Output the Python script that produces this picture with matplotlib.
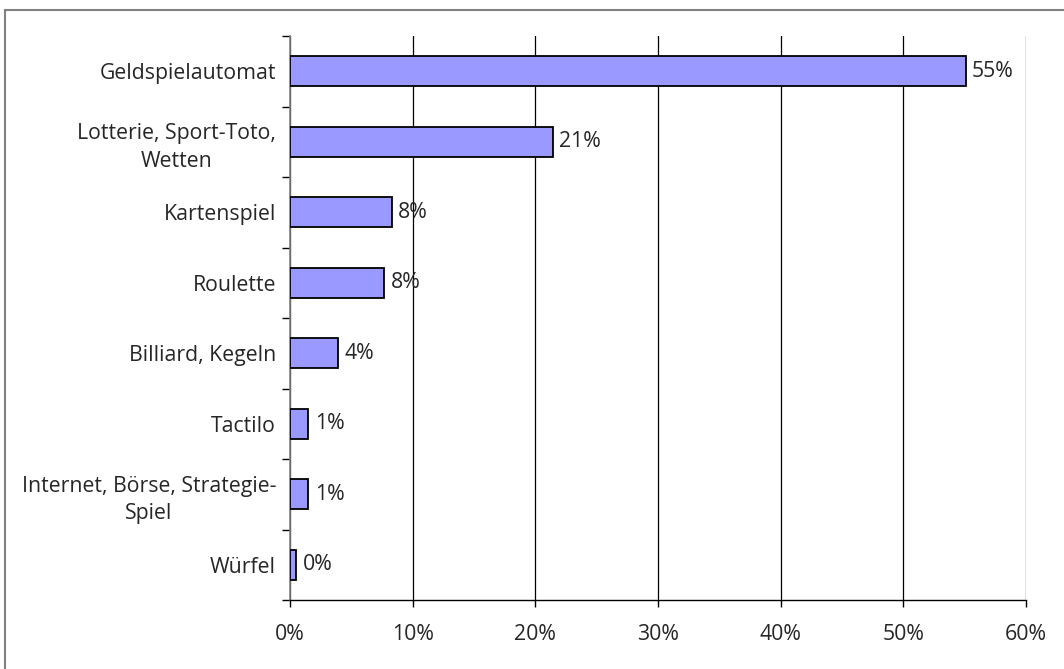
import matplotlib
matplotlib.use("Agg")
import matplotlib.pyplot as plt
from matplotlib.patches import Rectangle
import numpy as np

categories = ["Geldspielautomat", "Lotterie, Sport-Toto,\nWetten", "Kartenspiel", "Roulette",
              "Billiard, Kegeln", "Tactilo", "Internet, Börse, Strategie-\nSpiel", "Würfel"]
values = [55.1, 21.4, 8.3, 7.7, 3.9, 1.5, 1.5, 0.5]
value_labels = ["55%", "21%", "8%", "8%", "4%", "1%", "1%", "0%"]
xticks = [0, 10, 20, 30, 40, 50, 60]
xtick_labels = ["0%", "10%", "20%", "30%", "40%", "50%", "60%"]

plt.rcParams['font.family'] = ['Open Sans', 'DejaVu Sans']
FS = 15.3
TXT = "#262626"

W, H = 1064, 669
fig = plt.figure(figsize=(W / 100, H / 100), dpi=100)
fig.patches.append(Rectangle((5 / W, -0.05), 1.2, (H - 10) / H + 0.05, transform=fig.transFigure,
                             fill=False, edgecolor="#808080", linewidth=1.5))
ax = fig.add_axes([290 / W, 1 - 600 / H, (1026 - 290) / W, (600 - 36) / H])

y = np.arange(len(categories))
ax.barh(y, values, height=0.42, color="#9999FF", edgecolor="black", linewidth=1.3, zorder=3)

for yi, v, lab in zip(y, values, value_labels):
    ax.annotate(lab, (v, yi), xytext=(4.5, 0), textcoords="offset points",
                ha="left", va="center", fontsize=FS, color=TXT)

ax.set_xlim(0, 60)
ax.set_ylim(len(categories) - 0.5, -0.5)
ax.set_xticks(xticks)
ax.set_xticklabels(xtick_labels, fontsize=FS, color=TXT)
ax.xaxis.grid(True, color="black", linewidth=0.9, zorder=0)
ax.set_axisbelow(True)

ax.set_yticks(np.arange(-0.5, len(categories), 1.0))
ax.set_yticklabels([])
ax.set_yticks(y, minor=True)
ax.set_yticklabels(categories, minor=True, fontsize=FS, color=TXT)
for t in ax.get_yticklabels(minor=True):
    t.set_multialignment("center")
    t.set_linespacing(1.4)
ax.tick_params(axis="y", which="minor", length=0, pad=10)
ax.tick_params(axis="y", which="major", length=6, width=1, color="black", direction="out")
ax.tick_params(axis="x", length=5, width=1, color="black", direction="out", pad=12)

for s in ["top", "right"]:
    ax.spines[s].set_visible(False)
ax.spines["left"].set_color("#808080")
ax.spines["left"].set_linewidth(1.2)
ax.spines["bottom"].set_color("black")
ax.spines["bottom"].set_linewidth(1)

fig.savefig("out.png", dpi=100)
